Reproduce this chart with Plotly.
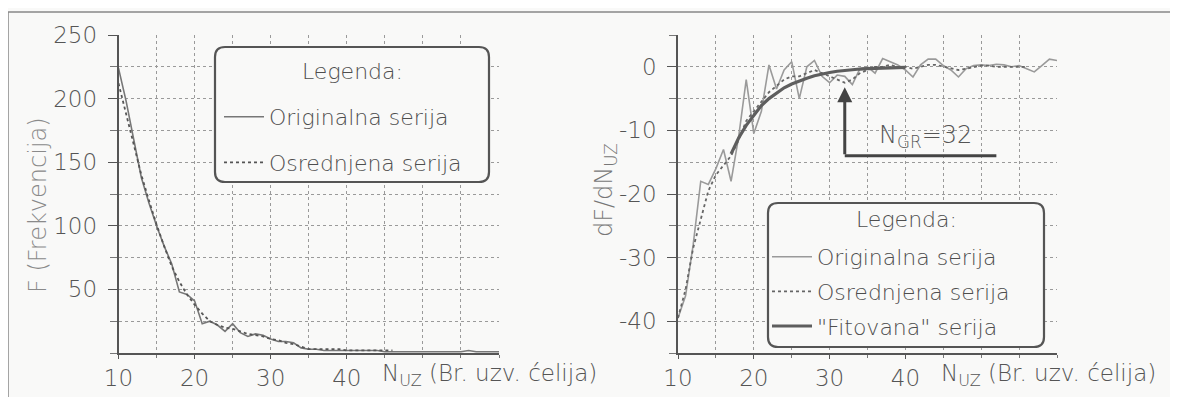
import plotly.graph_objects as go

W, H = 1178, 397
OFF = 8  # page body margin of the browser

# ---------------- data ----------------
f_x = list(range(10, 61))
f_orig = [224, 198, 168, 138, 118, 100, 84, 70, 48, 46,
          41, 23, 25, 22, 17, 23, 16, 13, 15, 14,
          11, 9, 9, 8, 4, 3, 3, 2, 2, 2,
          2, 2, 2, 2, 2, 1, 1, 1, 1, 1,
          1, 1, 1, 1, 1, 1, 2, 1, 1, 1, 1]
f_avg_x = list(range(10, 47))
f_avg = [212, 188, 165, 140, 120, 101, 84, 68, 56, 46,
         38, 31, 25, 22, 20, 19, 17, 15, 14, 13,
         11, 10, 8, 7, 5, 3, 3, 3, 3, 3,
         2, 2, 2, 2, 2, 2, 2]

d_x = list(range(10, 61))
d_orig = [-39.5, -36, -28, -18, -18.5, -16, -13, -18, -11, -2,
          -10.5, -7, 0.3, -3.5, -0.5, 0.8, -5, 0, 1, -1.5,
          -2.5, -1.3, -1.5, -2.8, -0.3, 0, -1, 1.3, 0.8, 0.3,
          -0.5, -1.6, 0.3, 1.2, 1.2, 0.2, -0.5, -1.6, -0.3, 0.2,
          0.3, 0.2, 0.4, 0.3, 0, 0.2, -0.3, -0.8, 0.2, 1.2, 1.0]
d_avg_x = list(range(10, 57))
d_avg = [-39.5, -35, -28.5, -24, -19.5, -17, -15.5, -14, -11.5, -8.5,
         -7, -5.5, -4, -3, -2, -1.5, -1.5, -1, -0.5, -1,
         -1.5, -2, -2.5, -2, -1, -0.5, 0, 0, 0.3, 0,
         0, -0.3, 0, 0.3, 0.3, 0, -0.3, -0.5, -0.3, 0,
         0.2, 0.2, 0, 0, 0, 0, 0]
fit_x = list(range(17, 41))
fit_vals = [-13.7, -11.2, -9.2, -7.6, -6.1, -5.0, -4.1, -3.3, -2.7, -2.2,
            -1.8, -1.4, -1.1, -0.9, -0.7, -0.55, -0.45, -0.35, -0.28, -0.22,
            -0.17, -0.13, -0.1, -0.08]

x_ticks = [10, 20, 30, 40]
f_ticks = [50, 100, 150, 200, 250]
d_ticks = [0, -10, -20, -30, -40]
n_gr = 32

# ---------------- helpers ----------------
def px(x):
    return (x - OFF) / W

def py(y):
    return 1 - (y - OFF) / H

FONT = "DejaVu Sans"
TXT = "#4e4e4e"
BG = "#f9f9f8"

def rounded_rect(x0, y0, x1, y1, r):
    X0, X1 = px(x0), px(x1)
    Y0, Y1 = py(y0), py(y1)
    rx, ry = r / W, r / H
    return (f"M {X0+rx},{Y0} L {X1-rx},{Y0} Q {X1},{Y0} {X1},{Y0-ry} "
            f"L {X1},{Y1+ry} Q {X1},{Y1} {X1-rx},{Y1} L {X0+rx},{Y1} "
            f"Q {X0},{Y1} {X0},{Y1+ry} L {X0},{Y0-ry} Q {X0},{Y0} {X0+rx},{Y0} Z")

def tfont(size, color="#555555"):
    return dict(family=FONT, size=size, color=color, weight=200)

fig = go.Figure()

fig.add_trace(go.Scatter(x=f_x, y=f_orig, mode="lines", name="Originalna serija",
                         line=dict(color="#777777", width=1.6),
                         xaxis="x", yaxis="y", legend="legend", legendgroup="a1"))
fig.add_trace(go.Scatter(x=f_avg_x, y=f_avg, mode="lines", name="Osrednjena serija",
                         line=dict(color="#555555", width=1.8, dash="dot"),
                         xaxis="x", yaxis="y", legend="legend", legendgroup="a2"))

fig.add_trace(go.Scatter(x=d_x, y=d_orig, mode="lines", name="Originalna serija",
                         line=dict(color="#9a9a9a", width=1.6),
                         xaxis="x2", yaxis="y2", legend="legend2", legendgroup="b1"))
fig.add_trace(go.Scatter(x=d_avg_x, y=d_avg, mode="lines", name="Osrednjena serija",
                         line=dict(color="#666666", width=1.8, dash="dot"),
                         xaxis="x2", yaxis="y2", legend="legend2", legendgroup="b2"))
fig.add_trace(go.Scatter(x=fit_x, y=fit_vals, mode="lines", name="\"Fitovana\" serija",
                         line=dict(color="#5e5e5e", width=3.2),
                         xaxis="x2", yaxis="y2", legend="legend2", legendgroup="b3"))

tickfont = tfont(23)

def xaxis_cfg(domain, anchor):
    return dict(domain=domain, anchor=anchor, range=[10, 60], automargin=False,
                tickvals=x_ticks, ticktext=[str(v) for v in x_ticks],
                ticks="outside", ticklen=4, tickcolor="#555",
                tickfont=tickfont, showline=True, linecolor="#555", linewidth=1.5,
                showgrid=True, gridcolor="#9a9a9a", griddash="dot", gridwidth=1,
                minor=dict(dtick=5, tick0=0, showgrid=True, gridcolor="#9a9a9a",
                           griddash="dot", ticks="outside", ticklen=3, tickcolor="#777"),
                zeroline=False, fixedrange=True)

def yaxis_cfg(domain, anchor, rng, tv, mdt):
    return dict(domain=domain, anchor=anchor, range=rng, automargin=False,
                tickvals=tv, ticktext=[str(v) for v in tv],
                ticks="outside", ticklen=9, tickcolor="#555",
                ticklabelstandoff=6,
                tickfont=tickfont, showline=True, linecolor="#555", linewidth=1.5,
                showgrid=True, gridcolor="#9a9a9a", griddash="dot", gridwidth=1,
                minor=dict(dtick=mdt, tick0=0, showgrid=True, gridcolor="#9a9a9a",
                           griddash="dot", ticks="outside", ticklen=7, tickcolor="#777"),
                zeroline=False, fixedrange=True)

ydom = [py(353), py(35)]
legfont = tfont(22, TXT)

fig.update_layout(
    template="none",
    width=W, height=H, autosize=False,
    margin=dict(l=0, r=0, t=0, b=0, pad=0, autoexpand=False),
    paper_bgcolor=BG, plot_bgcolor=BG,
    xaxis=xaxis_cfg([px(118.5), px(499)], "y"),
    yaxis=yaxis_cfg(ydom, "x", [0, 250], f_ticks, 25),
    xaxis2=xaxis_cfg([px(678), px(1057)], "y2"),
    yaxis2=yaxis_cfg(ydom, "x2", [-45, 5], d_ticks, 5),
    legend=dict(x=px(219), y=py(96), xanchor="left", yanchor="top",
                bgcolor="rgba(0,0,0,0)", borderwidth=0, font=legfont,
                tracegroupgap=14, itemwidth=40),
    legend2=dict(x=px(767), y=py(236), xanchor="left", yanchor="top",
                 bgcolor="rgba(0,0,0,0)", borderwidth=0, font=legfont,
                 tracegroupgap=3, itemwidth=40),
    showlegend=True,
)

shapes = [
    dict(type="rect", xref="paper", yref="paper", x0=px(8), x1=px(1175), y0=py(400), y1=py(12),
         line=dict(color="#888888", width=1.5), fillcolor="rgba(0,0,0,0)", layer="below"),
    dict(type="path", xref="paper", yref="paper", path=rounded_rect(215, 47, 489, 182, 10),
         line=dict(color="#555555", width=2.2), fillcolor=BG, layer="above"),
    dict(type="path", xref="paper", yref="paper", path=rounded_rect(768, 203, 1044, 347, 10),
         line=dict(color="#555555", width=2.2), fillcolor=BG, layer="above"),
    dict(type="line", xref="x2", yref="y2", x0=n_gr, x1=52, y0=-14, y1=-14,
         line=dict(color="#444444", width=3)),
]

annotations = [
    dict(xref="paper", yref="paper", x=px(352), y=py(72), xanchor="center", yanchor="middle",
         text="Legenda:", showarrow=False, font=legfont),
    dict(xref="paper", yref="paper", x=px(906), y=py(220), xanchor="center", yanchor="middle",
         text="Legenda:", showarrow=False, font=legfont),
    dict(xref="paper", yref="paper", x=px(38), y=py(205), xanchor="center", yanchor="middle",
         text="F (Frekvencija)", textangle=-90, showarrow=False,
         font=tfont(24, "#8a8a8a")),
    dict(xref="paper", yref="paper", x=px(606), y=py(190), xanchor="center", yanchor="middle",
         text="dF/dN<sub>UZ</sub>", textangle=-90, showarrow=False,
         font=tfont(24, "#777777")),
    dict(xref="x", yref="paper", x=44.3, y=py(375), xanchor="left", yanchor="middle",
         text="N<sub>UZ</sub> (Br. uzv. ćelija)", showarrow=False, font=tfont(23)),
    dict(xref="x2", yref="paper", x=44.4, y=py(375), xanchor="left", yanchor="middle",
         text="N<sub>UZ</sub> (Br. uzv. ćelija)", showarrow=False, font=tfont(23)),
    dict(xref="x2", yref="y2", x=n_gr, y=-3.2, ax=n_gr, ay=-14, axref="x2", ayref="y2",
         text="", showarrow=True, arrowhead=2, arrowsize=1, arrowwidth=3, arrowcolor="#444444"),
    dict(xref="x2", yref="y2", x=36.3, y=-10.9, xanchor="left", yanchor="middle",
         text=f"N<sub>GR</sub>={n_gr}", showarrow=False, font=tfont(24, "#555555")),
]

fig.update_layout(shapes=shapes, annotations=annotations)

fig.write_html("out.html")
